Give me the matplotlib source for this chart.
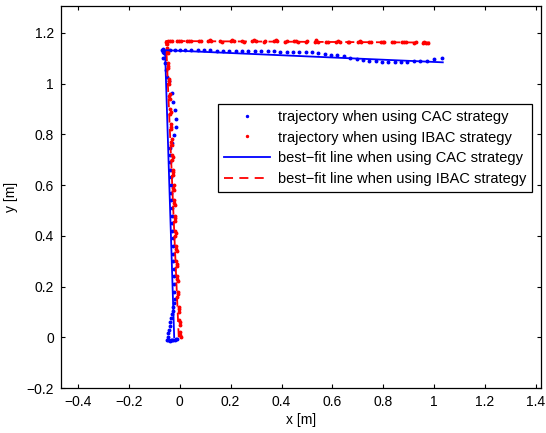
import matplotlib
matplotlib.use('Agg')
import matplotlib.pyplot as plt

plt.rcParams['font.family'] = ['Liberation Sans', 'DejaVu Sans']
plt.rcParams['font.size'] = 10

# trajectory when using CAC strategy (blue dots)
cac_x = [-0.050, -0.045, -0.040, -0.035, -0.030, -0.025, -0.020, -0.015, -0.010,
         -0.048, -0.046, -0.043, -0.040, -0.037, -0.034, -0.031, -0.028, -0.025, -0.022, -0.020,
         -0.021, -0.022, -0.023, -0.024, -0.025, -0.026, -0.027, -0.028, -0.029, -0.030,
         -0.031, -0.032, -0.033, -0.034, -0.035, -0.036, -0.037, -0.038, -0.039, -0.038,
         -0.030, -0.021, -0.015, -0.015, -0.019, -0.025, -0.032,
         -0.042, -0.051, -0.055, -0.060, -0.065, -0.067, -0.068, -0.064, -0.062,
         -0.040, -0.020, 0.000, 0.020, 0.045, 0.070, 0.095, 0.120, 0.145, 0.170,
         0.195, 0.220, 0.245, 0.270, 0.295, 0.320, 0.345, 0.370, 0.395, 0.420,
         0.445, 0.470, 0.495, 0.520, 0.545, 0.570, 0.595, 0.620, 0.645, 0.670,
         0.695, 0.720, 0.745, 0.770, 0.795, 0.820, 0.845, 0.870, 0.895, 0.920,
         0.945, 0.970, 1.000, 1.029]
cac_y = [-0.012, -0.012, -0.013, -0.012, -0.011, -0.012, -0.010, -0.008, -0.006,
         0.002, 0.015, 0.030, 0.045, 0.060, 0.075, 0.090, 0.105, 0.120, 0.135, 0.150,
         0.180, 0.210, 0.240, 0.270, 0.300, 0.330, 0.360, 0.390, 0.420, 0.450,
         0.480, 0.510, 0.540, 0.570, 0.600, 0.630, 0.660, 0.690, 0.720, 0.745,
         0.766, 0.798, 0.829, 0.861, 0.896, 0.929, 0.962,
         1.010, 1.028, 1.054, 1.080, 1.100, 1.126, 1.133, 1.137, 1.120,
         1.134, 1.134, 1.133, 1.133, 1.132, 1.132, 1.131, 1.131, 1.130, 1.130,
         1.129, 1.129, 1.128, 1.128, 1.128, 1.127, 1.127, 1.127, 1.126, 1.126,
         1.126, 1.125, 1.125, 1.124, 1.122, 1.118, 1.114, 1.111, 1.108, 1.102,
         1.096, 1.092, 1.089, 1.088, 1.087, 1.087, 1.087, 1.087, 1.087, 1.088,
         1.089, 1.091, 1.096, 1.101]

# trajectory when using IBAC strategy (red dots)
ibac_x = [0.004, 0.002, 0.001, -0.001, 0.001, -0.002, -0.003, -0.005, -0.004,
          -0.009, -0.007, -0.006, -0.008, -0.010, -0.009, -0.010, -0.012, -0.013,
          -0.012, -0.014, -0.016, -0.017, -0.016, -0.018, -0.018, -0.020, -0.019,
          -0.020, -0.022, -0.023, -0.023, -0.025, -0.024, -0.028, -0.026, -0.025,
          -0.030, -0.028, -0.031, -0.031, -0.033, -0.032, -0.034, -0.036, -0.035,
          -0.038, -0.036, -0.039, -0.040, -0.042, -0.040, -0.042, -0.044, -0.043,
          -0.045, -0.047, -0.046, -0.047, -0.050, -0.049, -0.051, -0.053,
          -0.045, -0.038, -0.031, -0.010, -0.003, 0.004, 0.030, 0.037, 0.044,
          0.075, 0.082, 0.110, 0.117, 0.124, 0.160, 0.167, 0.200, 0.207, 0.214,
          0.245, 0.252, 0.285, 0.292, 0.299, 0.330, 0.337, 0.370, 0.377, 0.384,
          0.415, 0.422, 0.450, 0.457, 0.464, 0.495, 0.502, 0.530, 0.537, 0.544,
          0.575, 0.582, 0.615, 0.622, 0.629, 0.660, 0.667, 0.700, 0.707, 0.714,
          0.745, 0.752, 0.790, 0.797, 0.804, 0.835, 0.842, 0.875, 0.882, 0.889,
          0.920, 0.927, 0.955, 0.962, 0.969, 0.976]
ibac_y = [0.000, 0.010, 0.020, 0.050, 0.060, 0.070, 0.100, 0.110, 0.120,
          0.160, 0.170, 0.180, 0.220, 0.230, 0.240, 0.280, 0.290, 0.300,
          0.340, 0.350, 0.360, 0.400, 0.410, 0.420, 0.460, 0.470, 0.480,
          0.520, 0.530, 0.540, 0.580, 0.590, 0.600, 0.640, 0.650, 0.660,
          0.700, 0.710, 0.720, 0.760, 0.770, 0.780, 0.820, 0.830, 0.840,
          0.880, 0.890, 0.900, 0.940, 0.950, 0.960, 1.000, 1.010, 1.020,
          1.060, 1.070, 1.080, 1.120, 1.130, 1.140, 1.155, 1.165,
          1.168, 1.169, 1.168, 1.167, 1.168, 1.167, 1.168, 1.170, 1.168,
          1.167, 1.168, 1.168, 1.171, 1.168, 1.167, 1.166, 1.168, 1.174, 1.168,
          1.167, 1.166, 1.168, 1.173, 1.167, 1.166, 1.167, 1.168, 1.172, 1.167,
          1.166, 1.167, 1.167, 1.170, 1.166, 1.166, 1.167, 1.166, 1.171, 1.166,
          1.165, 1.166, 1.166, 1.169, 1.165, 1.165, 1.166, 1.165, 1.167, 1.164,
          1.165, 1.165, 1.164, 1.166, 1.163, 1.164, 1.164, 1.163, 1.164, 1.163,
          1.162, 1.163, 1.161, 1.163, 1.161, 1.162]

# best-fit lines
cac_fit_x = [-0.022, -0.058, 1.034]
cac_fit_y = [0.000, 1.132, 1.084]
ibac_fit_x = [-0.004, -0.054, 0.984]
ibac_fit_y = [0.000, 1.168, 1.162]

fig = plt.figure(figsize=(5.46, 4.33), dpi=100)
ax = fig.add_axes([0.1117, 0.1039, 0.8791, 0.8822])

ax.plot(cac_x, cac_y, '.', color='#0000ff', ms=3.6, label='trajectory when using CAC strategy')
ax.plot(ibac_x, ibac_y, '.', color='#ff0000', ms=3.6, label='trajectory when using IBAC strategy')
ax.plot(cac_fit_x, cac_fit_y, '-', color='#0000ff', lw=1.3, label='best\u2212fit line when using CAC strategy')
ax.plot(ibac_fit_x, ibac_fit_y, '--', color='#ff0000', lw=1.3, dashes=(5, 3.5),
        label='best\u2212fit line when using IBAC strategy')

ax.set_xlim(-0.467, 1.42)
ax.set_ylim(-0.2, 1.306)
ax.set_xticks([-0.4, -0.2, 0, 0.2, 0.4, 0.6, 0.8, 1, 1.2, 1.4])
ax.set_yticks([-0.2, 0, 0.2, 0.4, 0.6, 0.8, 1, 1.2])
ax.set_xticklabels(['\u22120.4', '\u22120.2', '0', '0.2', '0.4', '0.6', '0.8', '1', '1.2', '1.4'])
ax.set_yticklabels(['\u22120.2', '0', '0.2', '0.4', '0.6', '0.8', '1', '1.2'])
ax.tick_params(direction='in', length=3, width=0.8, top=True, right=True, pad=5)
for s in ax.spines.values():
    s.set_linewidth(0.9)

ax.set_xlabel('x [m]', labelpad=3)
ax.set_ylabel('y [m]', labelpad=6)

leg = ax.legend(loc='upper right', bbox_to_anchor=(0.981, 0.743), borderaxespad=0,
                fancybox=False, edgecolor='black', framealpha=1, handlelength=3.2,
                handletextpad=0.5, labelspacing=0.45, borderpad=0.4, markerscale=0.8,
                fontsize=10.5)
leg.get_frame().set_linewidth(0.9)

fig.savefig('out.png', dpi=100)
